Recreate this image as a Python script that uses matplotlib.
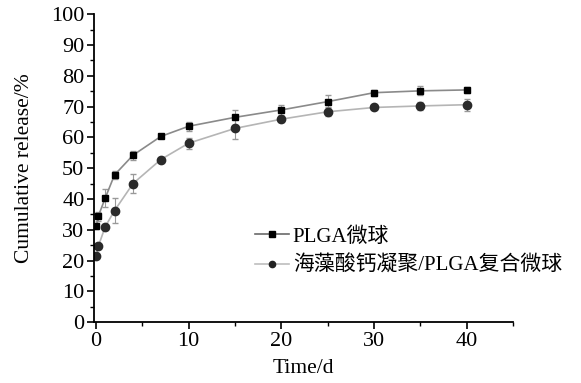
import matplotlib.pyplot as plt
from matplotlib.lines import Line2D
from matplotlib.ticker import MultipleLocator

# release time (d)
time_d = [0.05, 0.25, 1, 2, 4, 7, 10, 15, 20, 25, 30, 35, 40]

# PLGA microspheres
plga = [31.2, 34.4, 40.3, 47.8, 54.2, 60.3, 63.6, 66.5, 68.9, 71.6, 74.5, 75.1, 75.4]
plga_err = [1.0, 1.5, 3.0, 1.2, 1.5, 0.6, 1.5, 2.5, 1.5, 2.0, 1.0, 1.5, 1.0]

# alginate/PLGA composite microspheres
comp = [21.6, 24.6, 31.0, 36.2, 45.0, 52.8, 58.1, 62.9, 65.9, 68.3, 69.7, 70.2, 70.6]
comp_err = [0.6, 0.8, 1.0, 4.0, 3.0, 0.6, 1.8, 3.5, 1.0, 1.5, 0.5, 1.2, 2.0]

labels = ["PLGA微球", "海藻酸钙凝聚/PLGA复合微球"]

plt.rcParams['font.family'] = ['Liberation Serif', 'Noto Sans CJK SC']
plt.rcParams['font.size'] = 16

fig = plt.figure(figsize=(5.81, 3.83), dpi=100)
ax = fig.add_axes([0.162, 0.159, 0.721, 0.804])

ax.errorbar(time_d, plga, yerr=plga_err, color='#8a8a8a', lw=1.2,
            marker='s', ms=5, mfc='black', mec='black',
            ecolor='#999999', elinewidth=0.8, capsize=2.5)
ax.errorbar(time_d, comp, yerr=comp_err, color='#b5b5b5', lw=1.2,
            marker='o', ms=6, mfc='#2a2a2a', mec='#2a2a2a',
            ecolor='#999999', elinewidth=0.8, capsize=2.5)

ax.set_xlim(-0.2, 45)
ax.set_ylim(0, 100)
ax.xaxis.set_major_locator(MultipleLocator(10))
ax.xaxis.set_minor_locator(MultipleLocator(5))
ax.yaxis.set_major_locator(MultipleLocator(10))
ax.yaxis.set_minor_locator(MultipleLocator(5))
ax.tick_params(which='major', length=5, width=1.2, direction='out',
               labelsize=16, pad=2)
ax.tick_params(which='minor', length=3, width=1.0, direction='out')
ax.spines['top'].set_visible(False)
ax.spines['right'].set_visible(False)
ax.spines['left'].set_linewidth(1.3)
ax.spines['bottom'].set_linewidth(1.3)

ax.set_xlabel("Time/d", fontsize=15.5, labelpad=6)
ax.set_ylabel("Cumulative release/%", fontsize=15.5, labelpad=12)

handles = [
    Line2D([], [], color='#6a6a6a', lw=1.2, marker='s', ms=4,
           mfc='black', mec='black'),
    Line2D([], [], color='#bdbdbd', lw=1.2, marker='o', ms=4.5,
           mfc='#222222', mec='#222222'),
]
leg = ax.legend(handles, labels, loc='upper left', bbox_to_anchor=(0.34, 0.37),
                frameon=False, handlelength=1.6, handletextpad=0.2,
                labelspacing=0.45, fontsize=15)

fig.savefig("out.png", dpi=100)
